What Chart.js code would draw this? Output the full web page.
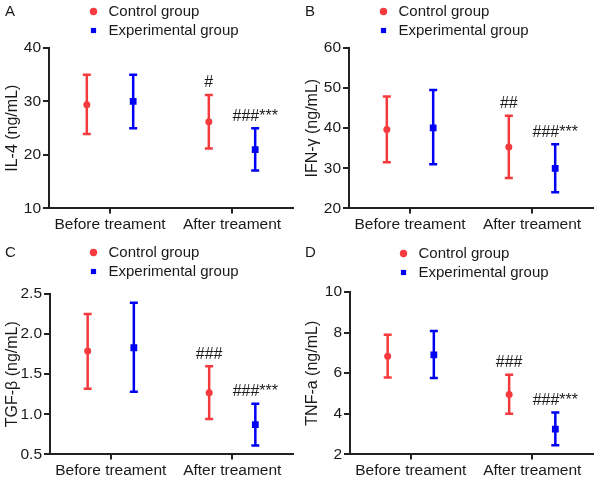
<!DOCTYPE html>
<html>
<head>
<meta charset="utf-8">
<script src="https://cdn.jsdelivr.net/npm/chart.js@4.4.1/dist/chart.umd.min.js"></script>
<style>
  html, body { margin: 0; padding: 0; background: #fff; }
  #grid { display: grid; grid-template-columns: 300px 300px; grid-template-rows: 241px 241px; width: 600px; height: 482px; }
  canvas { display: block; }
</style>
</head>
<body>
<div id="grid">
  <canvas id="c0" width="300" height="241"></canvas>
  <canvas id="c1" width="300" height="241"></canvas>
  <canvas id="c2" width="300" height="241"></canvas>
  <canvas id="c3" width="300" height="241"></canvas>
</div>
<script>
// ---- data ----
const categories = ['Before treament', 'After treament'];
const seriesNames = ['Control group', 'Experimental group'];
const panelLetters = ['A', 'B', 'C', 'D'];
const yTitles = ['IL-4 (ng/mL)', 'IFN-γ (ng/mL)', 'TGF-β (ng/mL)', 'TNF-a (ng/mL)'];
const yMin = [10, 20, 0.5, 2];
const yMax = [40, 60, 2.5, 10];
const yStep = [10, 10, 0.5, 2];

// [before, after] for each panel
const controlMean = [[29.4, 26.2], [39.7, 35.3], [1.79, 1.27], [6.83, 4.95]];
const controlLow  = [[23.9, 21.2], [31.5, 27.6], [1.32, 0.94], [5.79, 4.00]];
const controlHigh = [[35.0, 31.2], [47.9, 43.1], [2.25, 1.60], [7.90, 5.92]];
const expMean = [[30.0, 21.0], [40.1, 30.0], [1.83, 0.87], [6.90, 3.24]];
const expLow  = [[25.0, 17.1], [31.0, 24.0], [1.28, 0.61], [5.76, 2.45]];
const expHigh = [[35.0, 25.0], [49.5, 36.0], [2.39, 1.13], [8.08, 4.07]];
const controlMarks = [['', '#'], ['', '##'], ['', '###'], ['', '###']];
const expMarks = [['', '###***'], ['', '###***'], ['', '###***'], ['', '###***']];

// ---- layout / style ----
const FONT = "'Liberation Sans', Arial, sans-serif";
const TEXT = '#1a1a1a';
const AXIS = '#222';
const RED = 'rgb(245,58,62)';
const BLUE = 'rgb(0,0,245)';
const DODGE = 0.19;
const legendLeft = [82, 72, 82, 92];
const legendTop = [0, 0, 0, 1];
const padTop = [0, 0, 5, 3];
const padBottom = [5, 5, 0, 0];
const axisWidth = [49, 49, 50, 50];

function buildPoints(mean, low, high, marks, shift) {
  return categories.map((c, k) => ({
    x: k + 1 + shift, y: mean[k], low: low[k], high: high[k], mark: marks[k]
  }));
}

const errorBars = {
  id: 'errorBars',
  afterLayout(chart) {
    const i = chart.$panel;
    const lg = chart.legend;
    const w = lg.width, h = lg.height;
    lg.left = legendLeft[i]; lg.right = lg.left + w;
    lg.top = legendTop[i]; lg.bottom = lg.top + h;
  },
  beforeDatasetsDraw(chart) {
    const { ctx, scales: { x, y } } = chart;
    chart.data.datasets.forEach(ds => {
      ctx.save();
      ctx.strokeStyle = ds.borderColor;
      ctx.lineWidth = 2.5;
      ds.data.forEach(p => {
        const px = x.getPixelForValue(p.x);
        const top = y.getPixelForValue(p.high);
        const bot = y.getPixelForValue(p.low);
        ctx.beginPath();
        ctx.moveTo(px, top); ctx.lineTo(px, bot);
        ctx.moveTo(px - 4, top); ctx.lineTo(px + 4, top);
        ctx.moveTo(px - 4, bot); ctx.lineTo(px + 4, bot);
        ctx.stroke();
      });
      ctx.restore();
    });
  },
  afterDatasetsDraw(chart) {
    const { ctx, scales: { x, y } } = chart;
    ctx.save();
    ctx.fillStyle = TEXT;
    ctx.font = `16px ${FONT}`;
    ctx.textAlign = 'center';
    ctx.textBaseline = 'middle';
    chart.data.datasets.forEach(ds => {
      ds.data.forEach(p => {
        if (!p.mark) return;
        ctx.fillText(p.mark, x.getPixelForValue(p.x), y.getPixelForValue(p.high) - 12);
      });
    });
    ctx.restore();
  },
  afterDraw(chart) {
    const ctx = chart.ctx;
    ctx.save();
    ctx.fillStyle = TEXT;
    ctx.font = `15px ${FONT}`;
    ctx.textBaseline = 'middle';
    ctx.fillText(panelLetters[chart.$panel], 5, 12);
    ctx.restore();
  }
};

panelLetters.forEach((letter, i) => {
  const chart = new Chart(document.getElementById('c' + i), {
    type: 'scatter',
    data: {
      datasets: [
        {
          label: seriesNames[0],
          data: buildPoints(controlMean[i], controlLow[i], controlHigh[i], controlMarks[i], -DODGE),
          pointStyle: 'circle', pointRadius: 3.5, pointHoverRadius: 3.5,
          backgroundColor: RED, borderColor: RED, pointBackgroundColor: RED, pointBorderWidth: 0, borderWidth: 0
        },
        {
          label: seriesNames[1],
          data: buildPoints(expMean[i], expLow[i], expHigh[i], expMarks[i], DODGE),
          pointStyle: 'rect', pointRadius: 4.8, pointHoverRadius: 4.8,
          backgroundColor: BLUE, borderColor: BLUE, pointBackgroundColor: BLUE, pointBorderWidth: 0, borderWidth: 0
        }
      ]
    },
    options: {
      responsive: false,
      animation: false,
      layout: { padding: { top: padTop[i], bottom: padBottom[i], left: 0, right: 7 } },
      plugins: {
        legend: {
          position: 'top', align: 'start', fullSize: false,
          labels: { usePointStyle: true, boxHeight: 5.2, padding: 4, color: TEXT, font: { family: FONT, size: 15 } }
        },
        tooltip: { enabled: false }
      },
      scales: {
        x: {
          type: 'linear', min: 0.5, max: 2.5,
          afterBuildTicks: s => { s.ticks = categories.map((c, k) => ({ value: k + 1 })); },
          ticks: {
            callback: v => categories[v - 1], color: TEXT, padding: 2,
            maxRotation: 0, autoSkip: false, font: { family: FONT, size: 15.5 }
          },
          grid: { drawOnChartArea: false, drawTicks: true, tickLength: 5, color: AXIS, lineWidth: 2 },
          border: { color: AXIS, width: 2 }
        },
        y: {
          min: yMin[i], max: yMax[i],
          ticks: {
            stepSize: yStep[i], color: TEXT, padding: 2, font: { family: FONT, size: 15.5 },
            callback: v => yStep[i] < 1 ? v.toFixed(1) : v
          },
          grid: { drawOnChartArea: false, drawTicks: true, tickLength: 6, color: AXIS, lineWidth: 2 },
          border: { color: AXIS, width: 2 },
          title: { display: true, text: yTitles[i], color: TEXT, font: { family: FONT, size: 16 }, padding: { top: 3, bottom: 0 } },
          afterFit: s => { s.width = axisWidth[i]; }
        }
      }
    },
    plugins: [{ id: 'panelIndex', beforeInit: c => { c.$panel = i; } }, errorBars]
  });
});
</script>
</body>
</html>
